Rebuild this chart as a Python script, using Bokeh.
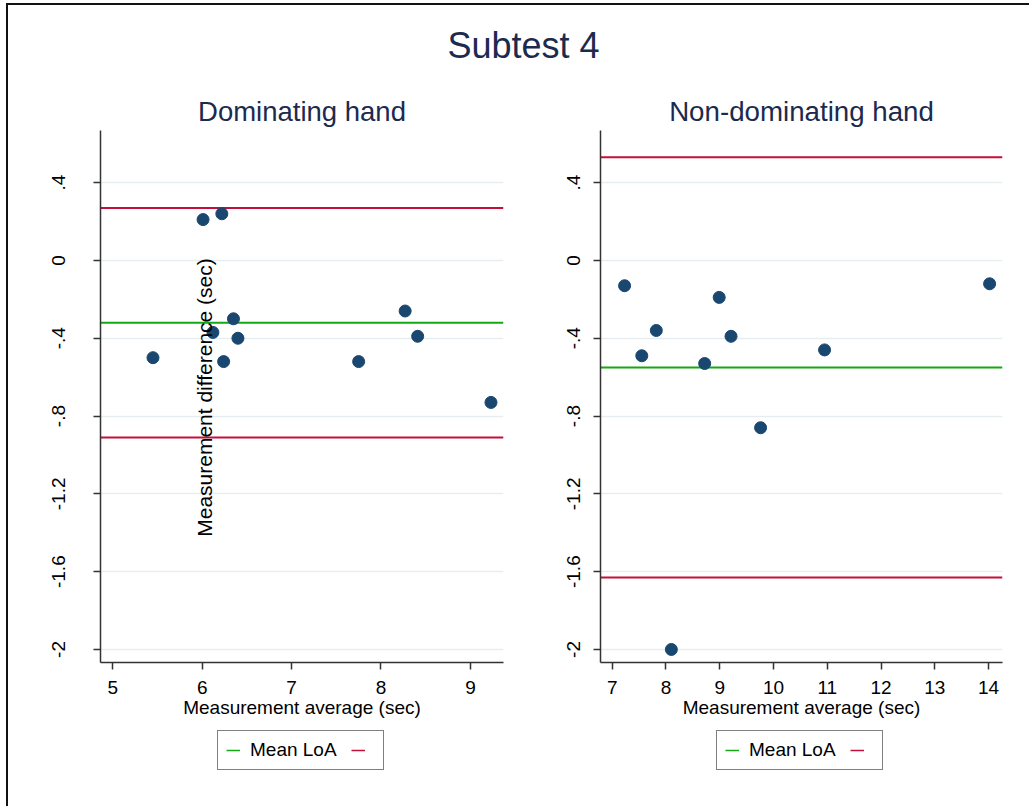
import math
from bokeh.plotting import figure
from bokeh.models import Label, Legend, LegendItem, FixedTicker, Range1d, CustomJSTickFormatter
from bokeh.layouts import column, row
from bokeh.embed import file_html
from bokeh.resources import INLINE

# ---------------- data ----------------
main_title = "Subtest 4"
panel_titles = ["Dominating hand", "Non-dominating hand"]
x_label = "Measurement average (sec)"
y_label = "Measurement difference (sec)"

dom_avg = [5.45, 6.01, 6.22, 6.12, 6.35, 6.40, 6.24, 7.75, 8.27, 8.41, 9.23]
dom_diff = [-0.50, 0.21, 0.24, -0.37, -0.30, -0.40, -0.52, -0.52, -0.26, -0.39, -0.73]
dom_mean = -0.32
dom_loa = [0.27, -0.91]

nondom_avg = [7.23, 7.55, 7.82, 8.72, 8.99, 9.21, 10.95, 14.02, 9.76, 8.10]
nondom_diff = [-0.13, -0.49, -0.36, -0.53, -0.19, -0.39, -0.46, -0.12, -0.86, -2.00]
nondom_mean = -0.55
nondom_loa = [0.53, -1.63]

ytick_values = [-2.0, -1.6, -1.2, -0.8, -0.4, 0.0, 0.4]
ytick_labels = ["-2", "-1.6", "-1.2", "-.8", "-.4", "0", ".4"]
dom_xticks = [5, 6, 7, 8, 9]
nondom_xticks = [7, 8, 9, 10, 11, 12, 13, 14]

legend_label = "Mean LoA"

# ---------------- styles ----------------
FONT = "Liberation Sans"
NAVY = "#1a476f"
GREEN = "#14a814"
RED = "#c40f3a"
TITLE_COL = "#1c2a4f"
GRID = "#e6edf1"
AXIS = "#333333"
NAN = float("nan")

YFMT_CODE = """
let best = 0, bd = Infinity;
for (let i = 0; i < vals.length; i++) {
  const d = Math.abs(vals[i] - tick);
  if (d < bd) { bd = d; best = i; }
}
return labs[best];
"""


def make_panel(title, title_size, xs, ys, mean, loa, xr, yr, xticks, width,
               mb_left, mb_right, y_standoff):
    p = figure(width=width, height=658, output_backend="svg", toolbar_location=None,
               x_range=Range1d(*xr), y_range=Range1d(*yr),
               min_border_left=mb_left, min_border_right=mb_right,
               min_border_top=62, min_border_bottom=64,
               title=title)
    p.title.align = "center"
    p.title.text_font = FONT
    p.title.text_font_size = title_size
    p.title.text_font_style = "normal"
    p.title.text_color = TITLE_COL
    p.title.standoff = 8
    p.outline_line_color = None
    p.background_fill_color = "white"
    p.border_fill_color = "white"

    p.xgrid.grid_line_color = None
    p.ygrid.grid_line_color = GRID
    p.ygrid.grid_line_width = 1.5

    p.xaxis.ticker = FixedTicker(ticks=xticks)
    p.yaxis.ticker = FixedTicker(ticks=ytick_values)
    p.yaxis.formatter = CustomJSTickFormatter(args=dict(vals=ytick_values, labs=ytick_labels),
                                              code=YFMT_CODE)
    p.yaxis.major_label_orientation = "vertical"
    p.yaxis.major_label_standoff = y_standoff
    for ax in (p.xaxis, p.yaxis):
        ax.axis_line_color = AXIS
        ax.axis_line_width = 1.5
        ax.major_tick_line_color = AXIS
        ax.major_tick_line_width = 1.5
        ax.major_tick_out = 7
        ax.major_tick_in = 0
        ax.minor_tick_line_color = None
        ax.major_label_text_font = FONT
        ax.major_label_text_font_size = "19px"
        ax.major_label_text_color = "black"
    p.xaxis.major_label_standoff = 11
    p.xaxis.axis_label = x_label
    p.xaxis.axis_label_standoff = 0
    p.xaxis.axis_label_text_font = FONT
    p.xaxis.axis_label_text_font_size = "19px"
    p.xaxis.axis_label_text_font_style = "normal"
    p.xaxis.axis_label_text_color = "black"

    x0, x1 = xr
    p.line(x=[x0, x1], y=[mean, mean], line_color=GREEN, line_width=2)
    p.multi_line(xs=[[x0, x1], [x0, x1]], ys=[[loa[0], loa[0]], [loa[1], loa[1]]],
                 line_color=RED, line_width=2)
    p.scatter(xs, ys, size=12, marker="circle", fill_color=NAVY, line_color=NAVY)
    return p


def make_legend_fig(width, mb_left, mb_right, loc_x):
    f = figure(width=width, height=80, output_backend="svg", toolbar_location=None,
               x_range=(0, 1), y_range=(0, 1),
               min_border_left=mb_left, min_border_right=mb_right,
               min_border_top=0, min_border_bottom=0)
    f.axis.visible = False
    f.grid.visible = False
    f.outline_line_color = None
    # legend-only renderers (NaN data: nothing drawn in the plot area)
    r_mean = f.line(x=[NAN, NAN], y=[NAN, NAN], line_color=GREEN, line_width=1.5)
    r_loa = f.line(x=[NAN, NAN], y=[NAN, NAN], line_color=RED, line_width=1.5)
    legend = Legend(items=[LegendItem(label=legend_label, renderers=[r_mean]),
                           LegendItem(label=" ", renderers=[r_loa])],
                    orientation="horizontal", location=(loc_x, 36))
    legend.label_text_font = FONT
    legend.label_text_font_size = "19px"
    legend.label_text_color = "black"
    legend.border_line_color = "black"
    legend.border_line_width = 1
    legend.glyph_width = 14
    legend.label_width = 0
    legend.label_standoff = 10
    legend.spacing = 14
    legend.padding = 8
    legend.margin = 0
    legend.background_fill_alpha = 1
    f.add_layout(legend, "center")
    return f


left = make_panel(panel_titles[0], "27.5px", dom_avg, dom_diff, dom_mean, dom_loa,
                  (4.863, 9.37), (-2.067, 0.668), dom_xticks, 543, 92, 48, 28)
left.add_layout(Label(x=104, y=265, x_units="screen", y_units="screen", text=y_label,
                      angle=math.pi / 2, text_align="center", text_baseline="middle",
                      text_font=FONT, text_font_size="21px", text_color="black"))

right = make_panel(panel_titles[1], "27.7px", nondom_avg, nondom_diff, nondom_mean, nondom_loa,
                   (6.782, 14.26), (-2.067, 0.668), nondom_xticks, 478, 49, 27, 13)

leg_left = make_legend_fig(543, 92, 48, 117)
leg_right = make_legend_fig(478, 49, 27, 116)

top = figure(width=1021, height=63, output_backend="svg", toolbar_location=None,
             x_range=(0, 1), y_range=(0, 1), min_border=0)
top.axis.visible = False
top.grid.visible = False
top.outline_line_color = None
top.add_layout(Label(x=515, y=23, x_units="screen", y_units="screen", text=main_title,
                     text_align="center", text_baseline="middle", text_font=FONT,
                     text_font_size="36px", text_color=TITLE_COL))

layout = column(top, row(left, right, spacing=0), row(leg_left, leg_right, spacing=0),
                spacing=0,
                styles={"margin-left": "6px", "margin-top": "3px",
                        "border-left": "2px solid #111111", "border-top": "2px solid #111111"})
open("out.html", "w").write(file_html(layout, INLINE))
